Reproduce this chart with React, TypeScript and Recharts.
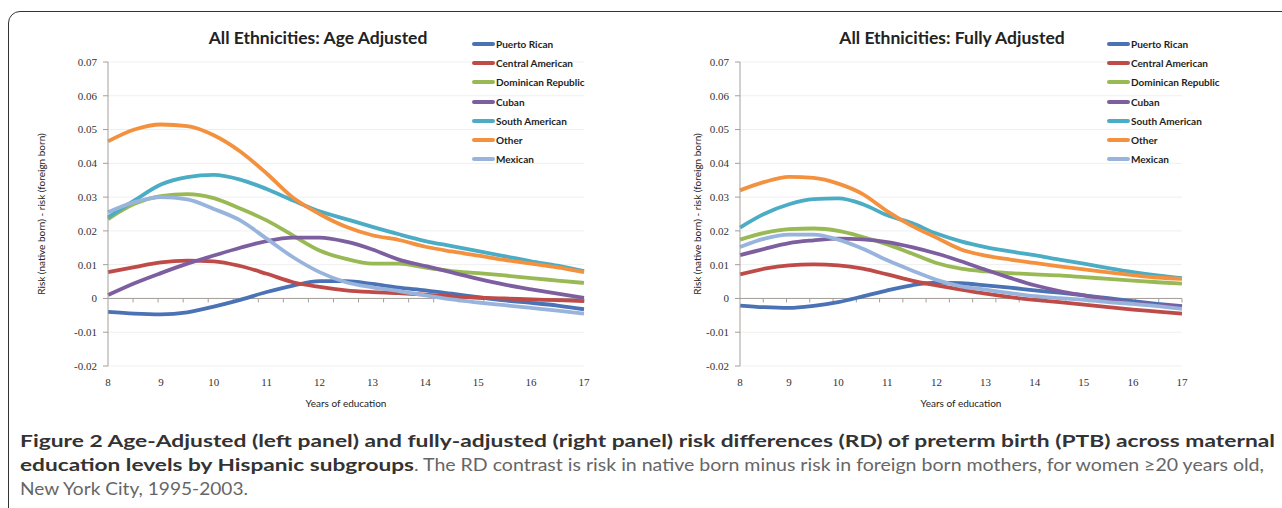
import React from 'react';
import { LineChart, Line, XAxis, YAxis, CartesianGrid, ReferenceLine, Legend } from 'recharts';

const years = ['8', '8.5', '9', '9.5', '10', '10.5', '11', '11.5', '12', '12.5', '13', '13.5', '14', '14.5', '15', '15.5', '16', '16.5', '17'];
const seriesNames = ['Puerto Rican', 'Central American', 'Dominican Republic', 'Cuban', 'South American', 'Other', 'Mexican'];
const seriesColors = ['#4a72b5', '#be4b48', '#98b954', '#7d5fa0', '#4aacc5', '#f3913f', '#98b4dc'];
const yTicks = [-0.02, -0.01, 0, 0.01, 0.02, 0.03, 0.04, 0.05, 0.06, 0.07];

// age adjusted (left panel)
const puertoRicanAge = [-0.0040, -0.0045, -0.0047, -0.0041, -0.0024, -0.0004, 0.0019, 0.0038, 0.0051, 0.0051, 0.0043, 0.0032, 0.0024, 0.0014, 0.0004, -0.0006, -0.0013, -0.0021, -0.0032];
const centralAmericanAge = [0.0078, 0.0093, 0.0107, 0.0112, 0.0110, 0.0096, 0.0073, 0.0048, 0.0034, 0.0024, 0.0019, 0.0016, 0.0011, 0.0006, 0.0002, 0.0000, -0.0003, -0.0005, -0.0008];
const dominicanAge = [0.0235, 0.0280, 0.0303, 0.0309, 0.0297, 0.0266, 0.0231, 0.0186, 0.0142, 0.0117, 0.0103, 0.0103, 0.0091, 0.0081, 0.0075, 0.0068, 0.0060, 0.0053, 0.0046];
const cubanAge = [0.0010, 0.0045, 0.0075, 0.0103, 0.0127, 0.0150, 0.0170, 0.0180, 0.0180, 0.0168, 0.0145, 0.0115, 0.0096, 0.0077, 0.0058, 0.0041, 0.0027, 0.0014, 0.0002];
const southAmericanAge = [0.0240, 0.0290, 0.0337, 0.0359, 0.0366, 0.0352, 0.0324, 0.0290, 0.0258, 0.0235, 0.0212, 0.0190, 0.0170, 0.0155, 0.0140, 0.0125, 0.0110, 0.0097, 0.0081];
const otherAge = [0.0465, 0.0500, 0.0515, 0.0510, 0.0483, 0.0435, 0.0370, 0.0298, 0.0250, 0.0212, 0.0187, 0.0173, 0.0153, 0.0139, 0.0127, 0.0114, 0.0103, 0.0092, 0.0078];
const mexicanAge = [0.0255, 0.0285, 0.0300, 0.0293, 0.0265, 0.0231, 0.0177, 0.0122, 0.0078, 0.0048, 0.0033, 0.0022, 0.0009, -0.0003, -0.0012, -0.0020, -0.0028, -0.0036, -0.0045];

// fully adjusted (right panel)
const puertoRicanFull = [-0.0021, -0.0026, -0.0028, -0.0022, -0.0011, 0.0006, 0.0024, 0.0039, 0.0047, 0.0045, 0.0039, 0.0032, 0.0024, 0.0017, 0.0009, 0.0001, -0.0008, -0.0016, -0.0023];
const centralAmericanFull = [0.0071, 0.0088, 0.0098, 0.0101, 0.0098, 0.0088, 0.0071, 0.0053, 0.0039, 0.0026, 0.0014, 0.0004, -0.0004, -0.0011, -0.0018, -0.0026, -0.0033, -0.0039, -0.0045];
const dominicanFull = [0.0174, 0.0194, 0.0205, 0.0207, 0.0200, 0.0182, 0.0160, 0.0133, 0.0105, 0.0088, 0.0080, 0.0075, 0.0071, 0.0068, 0.0063, 0.0058, 0.0053, 0.0048, 0.0044];
const cubanFull = [0.0128, 0.0147, 0.0164, 0.0172, 0.0177, 0.0175, 0.0167, 0.0152, 0.0133, 0.0110, 0.0085, 0.0061, 0.0039, 0.0022, 0.0009, -0.0003, -0.0014, -0.0019, -0.0024];
const southAmericanFull = [0.0210, 0.0251, 0.0279, 0.0294, 0.0296, 0.0279, 0.0246, 0.0223, 0.0192, 0.0169, 0.0152, 0.0139, 0.0128, 0.0115, 0.0103, 0.0090, 0.0078, 0.0068, 0.0060];
const otherFull = [0.0320, 0.0345, 0.0360, 0.0357, 0.0340, 0.0309, 0.0258, 0.0215, 0.0180, 0.0145, 0.0127, 0.0115, 0.0105, 0.0095, 0.0086, 0.0077, 0.0069, 0.0062, 0.0058];
const mexicanFull = [0.0152, 0.0177, 0.0189, 0.0189, 0.0174, 0.0147, 0.0113, 0.0083, 0.0055, 0.0036, 0.0026, 0.0016, 0.0007, 0.0001, -0.0004, -0.0011, -0.0016, -0.0023, -0.0031];

const buildRows = (cols: number[][]) =>
  years.map((year, i) => {
    const row: Record<string, any> = { year };
    seriesNames.forEach((name, s) => { row[name] = cols[s][i]; });
    return row;
  });

const ageData = buildRows([puertoRicanAge, centralAmericanAge, dominicanAge, cubanAge, southAmericanAge, otherAge, mexicanAge]);
const fullData = buildRows([puertoRicanFull, centralAmericanFull, dominicanFull, cubanFull, southAmericanFull, otherFull, mexicanFull]);

const axisGray = '#a49e9a';
const serif = '"Liberation Serif", serif';
const sans = 'Lato, "Open Sans", sans-serif';

const XTick = ({ x, y, payload }: any) => {
  const v = String(payload.value);
  if (v.includes('.')) return <g />;
  return (
    <text x={x} y={y} dy={12} textAnchor="middle" style={{ fontFamily: serif }} fontSize={11} fill="#333">{v}</text>
  );
};

// the x axis line sits on zero, Excel style ticks between categories
const ZeroAxis = (props: any) => {
  const { x1, y1, x2, y2 } = props;
  const step = (x2 - x1) / years.length;
  return (
    <g>
      <line x1={x1} y1={y1} x2={x2} y2={y2} stroke={axisGray} strokeWidth={1} />
      {years.map((_, k) => (
        <line key={k} x1={x1 + step * (k + 1)} x2={x1 + step * (k + 1)} y1={y1} y2={y1 + 4} stroke={axisGray} strokeWidth={1} />
      ))}
    </g>
  );
};

// keep the series order, recharts sorts legend items by name
const LegendBox = ({ payload }: any) => {
  const items = [...(payload || [])].sort((a: any, b: any) => seriesNames.indexOf(a.value) - seriesNames.indexOf(b.value));
  return (
    <div>
      {items.map((p: any) => (
        <div key={p.value} style={{ height: 19.3, display: 'flex', alignItems: 'center' }}>
          <span style={{ display: 'inline-block', width: 23, height: 4, borderRadius: 2, background: p.color }} />
          <span style={{ fontFamily: sans, fontSize: 10, fontWeight: 700, color: '#1e1e1e', marginLeft: 1 }}>{p.value}</span>
        </div>
      ))}
    </div>
  );
};

type PanelProps = {
  data: any[];
  title: string;
  titleCenter: number;
  left: number;
  width: number;
  rightMargin: number;
  legendLeft: number;
  yLabelX: number;
};

const Panel = ({ data, title, titleCenter, left, width, rightMargin, legendLeft, yLabelX }: PanelProps) => {
  const plotLeft = 108;
  return (
    <div style={{ position: 'absolute', left, top: 0, width, height: 420 }}>
      <div style={{ position: 'absolute', left: titleCenter - 150, width: 300, top: 27, textAlign: 'center', fontFamily: sans, fontWeight: 700, fontSize: 17.5, color: '#222' }}>
        {title}
      </div>
      <LineChart width={width} height={420} data={data} margin={{ top: 62, right: rightMargin, bottom: 24, left: 0 }}>
        <CartesianGrid vertical={false} stroke="#efefef" />
        <XAxis
          dataKey="year"
          interval={0}
          axisLine={false}
          tickLine={false}
          height={30}
          tick={<XTick />}
          label={{ value: 'Years of education', position: 'insideBottom', offset: -11, style: { fontFamily: sans, fontSize: 10, fill: '#222' } }}
        />
        <YAxis
          width={plotLeft}
          domain={[-0.02, 0.07]}
          ticks={yTicks}
          interval={0}
          stroke={axisGray}
          tickSize={5}
          tickMargin={6}
          tickFormatter={(v: number) => (v === 0 ? '0' : v.toFixed(2))}
          tick={{ fontFamily: serif, fontSize: 11, fill: '#333' }}
          label={(p: any) => {
            const vb = p.viewBox;
            const cy = vb.y + vb.height / 2;
            return (
              <text x={yLabelX} y={cy} transform={`rotate(-90 ${yLabelX} ${cy})`} textAnchor="middle" dominantBaseline="central" fontFamily={sans} fontSize={10} fill="#222">
                Risk (native born) - risk (foreign born)
              </text>
            );
          }}
        />
        <ReferenceLine y={0} shape={<ZeroAxis />} />
        <Legend
          layout="vertical"
          align="center"
          verticalAlign="middle"
          content={<LegendBox />}
          wrapperStyle={{ left: legendLeft, top: 34, width: 150 }}
        />
        {seriesNames.map((name, s) => (
          <Line
            key={name}
            type="monotone"
            dataKey={name}
            name={name}
            stroke={seriesColors[s]}
            strokeWidth={3.8}
            dot={false}
            isAnimationActive={false}
          />
        ))}
      </LineChart>
    </div>
  );
};

export default function App() {
  return (
    <div style={{ position: 'absolute', left: 0, top: 0, width: 1282, height: 508, overflow: 'hidden', background: '#fff' }}>
      <div style={{ position: 'absolute', left: 8, top: 11, width: 1300, height: 530, border: '1.5px solid #333', borderRadius: 12 }} />
      <Panel data={ageData} title="All Ethnicities: Age Adjusted" titleCenter={318} left={0} width={620} rightMargin={36} legendLeft={472} yLabelX={41} />
      <Panel data={fullData} title="All Ethnicities: Fully Adjusted" titleCenter={320} left={632} width={600} rightMargin={50} legendLeft={475} yLabelX={65} />
      <svg style={{ position: 'absolute', left: 0, top: 420 }} width={1282} height={88}>
        <text x={20} y={27} textLength={1255} lengthAdjust="spacingAndGlyphs" fontFamily={sans} fontWeight={700} fontSize={17} fill="#333">
          Figure 2 Age-Adjusted (left panel) and fully-adjusted (right panel) risk differences (RD) of preterm birth (PTB) across maternal
        </text>
        <text x={20} y={51} textLength={394} lengthAdjust="spacingAndGlyphs" fontFamily={sans} fontWeight={700} fontSize={17} fill="#333">
          education levels by Hispanic subgroups
        </text>
        <text x={414} y={51} textLength={850} lengthAdjust="spacingAndGlyphs" fontFamily={sans} fontSize={17} fill="#666">
          . The RD contrast is risk in native born minus risk in foreign born mothers, for women ≥20 years old,
        </text>
        <text x={20} y={75} textLength={228} lengthAdjust="spacingAndGlyphs" fontFamily={sans} fontSize={17} fill="#666">
          New York City, 1995-2003.
        </text>
      </svg>
    </div>
  );
}
